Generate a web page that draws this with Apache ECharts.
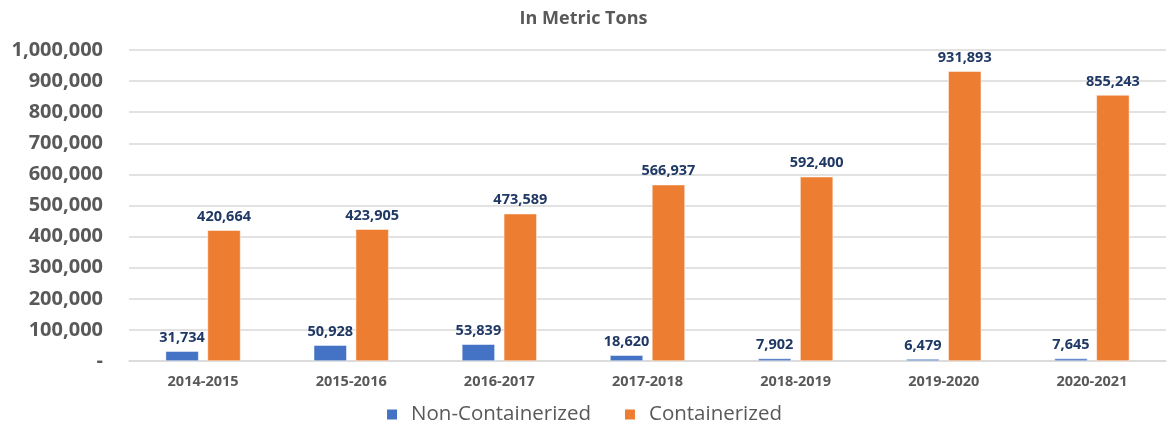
<!DOCTYPE html>
<html><head><meta charset="utf-8">
<script src="https://cdn.jsdelivr.net/npm/echarts@6/dist/echarts.min.js"></script>
<style>html,body{margin:0;padding:0;background:#fff}#c{width:1167px;height:426px}</style>
</head><body><div id="c"></div>
<script>
const categories = ['2014-2015','2015-2016','2016-2017','2017-2018','2018-2019','2019-2020','2020-2021'];
const nonContainerized = [31734, 50928, 53839, 18620, 7902, 6479, 7645];
const containerized = [420664, 423905, 473589, 566937, 592400, 931893, 855243];
const seriesNames = ['Non-Containerized', 'Containerized'];
const titleText = 'In Metric Tons';

const font = '"Open Sans", "Noto Sans", sans-serif';
const fmt = v => v.toLocaleString('en-US');
const chart = echarts.init(document.getElementById('c'));
const labelCfg = {show:true, position:'top', distance:6, color:'#1F3864', fontWeight:'bold', fontSize:14.5, fontFamily:font, formatter:p=>fmt(p.value)};
chart.setOption({
  animation:false,
  title:{text:titleText, left:'center', top:5, textStyle:{color:'#595959', fontSize:18, fontWeight:'bold', fontFamily:font}},
  legend:{top:399, left:'center', itemWidth:12, itemHeight:12, itemGap:32, icon:'rect',
    textStyle:{color:'#595959', fontSize:20.5, fontWeight:500, fontFamily:font, padding:[0,0,0,8]}, data:seriesNames},
  grid:{left:129, right:1, top:50, bottom:65},
  xAxis:{type:'category', data:categories, axisTick:{show:false},
    axisLine:{lineStyle:{color:'#d9d9d9', width:1.5}},
    axisLabel:{color:'#595959', fontWeight:'bold', fontSize:14.5, fontFamily:font, margin:13}},
  yAxis:{type:'value', min:0, max:1000000, interval:100000,
    axisLine:{show:false}, axisTick:{show:false},
    splitLine:{lineStyle:{color:'#d9d9d9', width:1.5}},
    axisLabel:{color:'#595959', fontWeight:'bold', fontSize:20, fontFamily:font, margin:26,
      formatter:v=>v===0?'-':fmt(v)}},
  series:[
    {name:seriesNames[0], type:'bar', data:nonContainerized, barWidth:33, barGap:'27%',
      itemStyle:{color:'#4472C4', borderColor:'#fff', borderWidth:0.5}, label:labelCfg},
    {name:seriesNames[1], type:'bar', data:containerized, barWidth:33,
      itemStyle:{color:'#ED7D31', borderColor:'#fff', borderWidth:0.5}, label:labelCfg}
  ]
});
</script></body></html>
